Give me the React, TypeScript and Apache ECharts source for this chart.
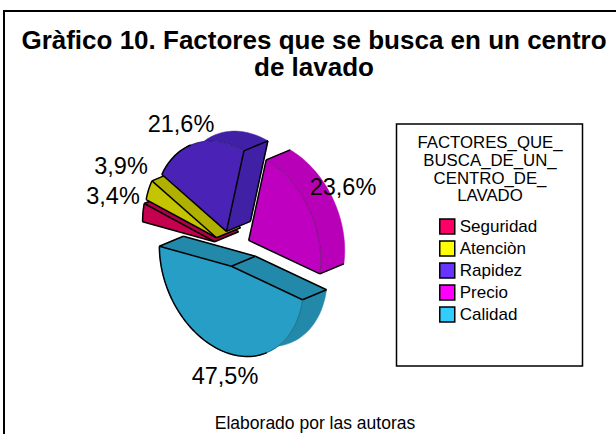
import React, { useEffect, useRef } from "react";
import * as echarts from "echarts";

const categories = ["Seguridad", "Atenciòn", "Rapidez", "Precio", "Calidad"];
const percentages = [3.4, 3.9, 21.6, 23.6, 47.5];
const legendColors = ["#ff0066", "#ffff00", "#6633ff", "#ff00ff", "#33ccff"];
const faceColors = ["#c4004f", "#c4c400", "#4a22b6", "#c000c0", "#269ec6"];
const wallColors = ["#b00047", "#b0b000", "#4020a4", "#b800b8", "#2289ab"];
const explodeFactors = [0.25, 0.235, 0.2, 0.27, 0.2];
const labelPositions: [number, number][] = [[113, 196], [121, 166], [181, 124], [343, 187], [225, 376]];

const FONT = "'Liberation Sans', Arial, sans-serif";
const CENTER = [232.5, 249];
const AXIS_A = [-72, -20];
const AXIS_B = [0, -88];
const DEPTH = [24, -10];

type P = [number, number];
const pointAt = (deg: number): P => {
  const t = (deg * Math.PI) / 180;
  return [AXIS_A[0] * Math.cos(t) + AXIS_B[0] * Math.sin(t), AXIS_A[1] * Math.cos(t) + AXIS_B[1] * Math.sin(t)];
};
const shift = (p: P, d: number[]): P => [p[0] + d[0], p[1] + d[1]];

function renderSlice(index: number, value: number) {
  const total = percentages.reduce((s, v) => s + v, 0);
  const before = percentages.slice(0, index).reduce((s, v) => s + v, 0);
  const start = (before / total) * 360;
  const end = start + (value / total) * 360;
  const mid = pointAt((start + end) / 2);
  const k = explodeFactors[index];
  const apex: P = [CENTER[0] + mid[0] * k, CENTER[1] + mid[1] * k];
  const n = Math.max(4, Math.ceil((end - start) / 2));
  const degs = Array.from({ length: n + 1 }, (_, i) => start + ((end - start) * i) / n);
  const front = degs.map((d) => shift(pointAt(d), apex));
  const back = front.map((p) => shift(p, DEPTH));
  const apexBack = shift(apex, DEPTH);
  const fill = wallColors[index];
  const wall = (points: P[]) => ({ type: "polygon", shape: { points }, style: { fill, stroke: fill, lineWidth: 0.5 } });
  const line = (a: P, b: P) => ({ type: "polyline", shape: { points: [a, b] }, style: { fill: "none", stroke: "#000", lineWidth: 1.5 } });
  const children: any[] = [wall([...front, ...back.slice().reverse()])];
  // A flat cut wall shows only if it faces the depth direction.
  const cuts: [P, P, number][] = [
    [front[0], back[0], start - 90],
    [front[n], back[n], end + 90],
  ];
  cuts.forEach(([f, b, outDeg]) => {
    const ex = f[0] - apex[0];
    const ey = f[1] - apex[1];
    const out = pointAt(outDeg);
    const nx = ey;
    const ny = -ex;
    const visible = (nx * out[0] + ny * out[1]) * (nx * DEPTH[0] + ny * DEPTH[1]) > 0;
    if (visible) {
      children.push(wall([apex, f, b, apexBack]));
      children.push(line(apexBack, b));
    }
    children.push(line(f, b));
  });
  children.push(line(apex, apexBack));
  children.push({ type: "polygon", shape: { points: [apex, ...front] }, style: { fill: faceColors[index] } });
  children.push(line(apex, front[0]));
  children.push(line(apex, front[n]));
  // The front rim is black only where it is the silhouette; elsewhere a hairline against the wall.
  let run: P[] = [front[0]];
  let runBlack: boolean | null = null;
  const flush = () => {
    if (run.length > 1) {
      children.push({
        type: "polyline",
        shape: { points: run },
        style: { fill: "none", stroke: runBlack ? "#000" : "rgba(0,0,0,0.45)", lineWidth: runBlack ? 1.5 : 0.7 },
      });
    }
  };
  for (let i = 1; i <= n; i++) {
    const p = pointAt((degs[i - 1] + degs[i]) / 2);
    const tx = front[i][0] - front[i - 1][0];
    const ty = front[i][1] - front[i - 1][1];
    const nx = ty;
    const ny = -tx;
    const black = (nx * p[0] + ny * p[1]) * (nx * DEPTH[0] + ny * DEPTH[1]) < 0;
    if (runBlack !== null && black !== runBlack) {
      flush();
      run = [front[i - 1]];
    }
    runBlack = black;
    run.push(front[i]);
  }
  flush();
  children.push({
    type: "text",
    x: labelPositions[index][0],
    y: labelPositions[index][1],
    style: {
      text: value.toFixed(1).replace(".", ",") + "%",
      fontFamily: FONT,
      fontSize: 23.5,
      fill: "#000",
      align: "center",
      verticalAlign: "middle",
    },
  });
  return { type: "group", children };
}

export default function App() {
  const ref = useRef<HTMLDivElement>(null);
  useEffect(() => {
    const chart = echarts.init(ref.current!, undefined, { renderer: "svg" });
    chart.setOption({
      animation: false,
      backgroundColor: "#fff",
      title: [
        {
          text: "Gràfico 10. Factores que se busca en un centro\nde lavado",
          left: 309,
          top: 22,
          textAlign: "center",
          textStyle: { fontFamily: FONT, fontSize: 26, fontWeight: "bold", color: "#000", lineHeight: 26.5 },
        },
        {
          text: "FACTORES_QUE_\nBUSCA_DE_UN_\nCENTRO_DE_\nLAVADO",
          left: 485,
          top: 129,
          textAlign: "center",
          textStyle: { fontFamily: FONT, fontSize: 16.8, fontWeight: "normal", color: "#000", lineHeight: 17.7 },
        },
        {
          text: "Elaborado por las autoras",
          left: 310,
          top: 409,
          textAlign: "center",
          textStyle: { fontFamily: FONT, fontSize: 17.5, fontWeight: "normal", color: "#000" },
        },
      ],
      legend: {
        orient: "vertical",
        left: 439,
        top: 218,
        padding: 0,
        itemWidth: 15,
        itemHeight: 15,
        itemGap: 5,
        selectedMode: false,
        icon: "rect",
        data: categories,
        textStyle: { fontFamily: FONT, fontSize: 17, color: "#000" },
        itemStyle: { borderColor: "#000", borderWidth: 1.5 },
      },
      graphic: [
        { type: "polyline", shape: { points: [[4, 434], [4, 11], [616, 11]] }, style: { fill: "none", stroke: "#000", lineWidth: 2 } },
        { type: "rect", shape: { x: 396.5, y: 124, width: 186, height: 242 }, style: { fill: "none", stroke: "#000", lineWidth: 1.5 } },
      ],
      series: categories.map((name, i) => ({
        type: "custom",
        name,
        coordinateSystem: "none",
        itemStyle: { color: legendColors[i] },
        data: [[percentages[i]]],
        renderItem: (_: any, api: any) => renderSlice(i, api.value(0)),
      })),
    });
    return () => chart.dispose();
  }, []);
  return <div ref={ref} style={{ position: "absolute", left: 0, top: 0, width: 616, height: 434 }} />;
}
